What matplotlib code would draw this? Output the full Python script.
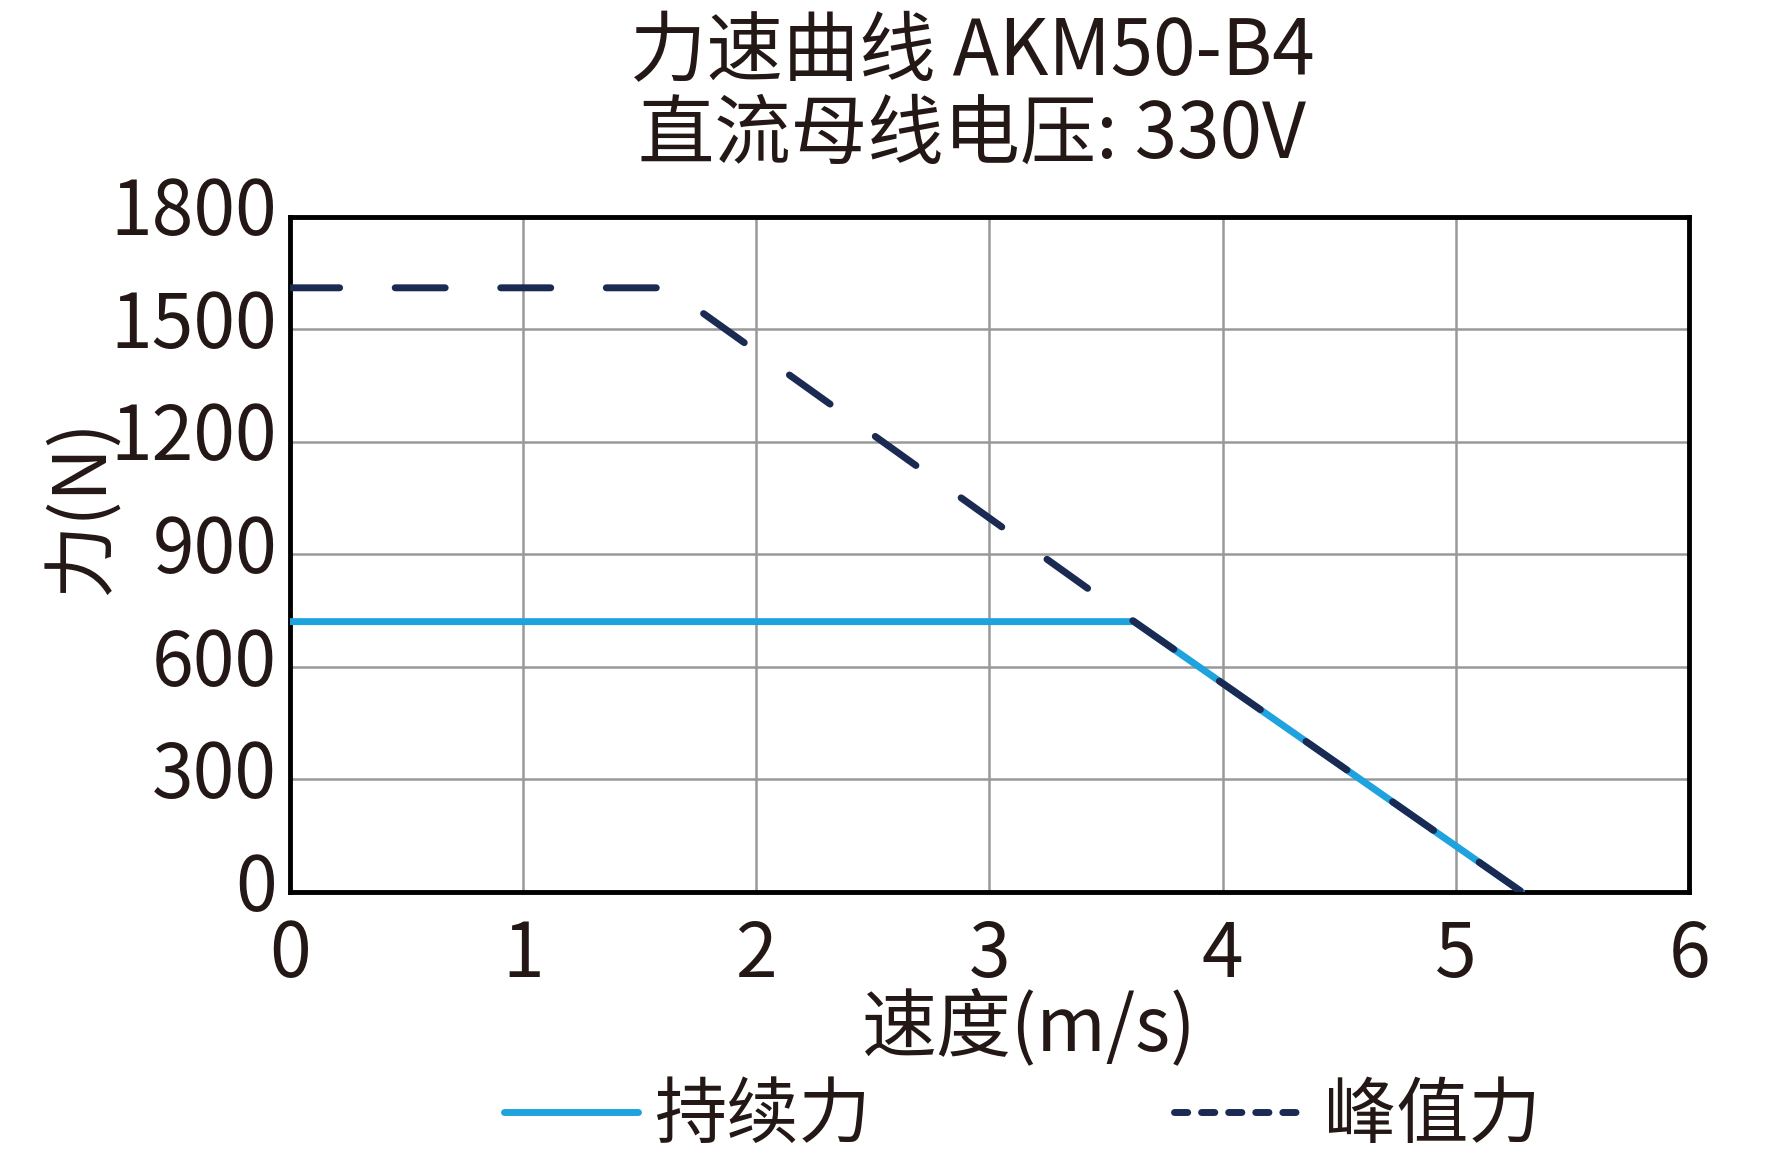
import matplotlib
matplotlib.use("Agg")
import matplotlib.pyplot as plt
from matplotlib.lines import Line2D
from matplotlib.transforms import ScaledTranslation

plt.rcParams['font.family'] = ['Noto Sans CJK SC', 'DejaVu Sans']

# data
speed_cont = [0, 3.62, 5.28]
force_cont = [720, 720, 0]
speed_peak = [0, 1.62, 3.62, 5.28]
force_peak = [1610, 1610, 720, 0]

x_ticks = [0, 1, 2, 3, 4, 5, 6]
y_ticks = [0, 300, 600, 900, 1200, 1500, 1800]

title = "力速曲线 AKM50-B4\n直流母线电压: 330V"
xlabel = "速度(m/s)"
ylabel = "力(N)"
labels = ["持续力", "峰值力"]

cyan = '#1fa3df'
navy = '#1b2a52'
txt = '#231815'

fig = plt.figure(figsize=(17.66, 11.58), dpi=100)
ax = fig.add_axes([0.164, 0.230, 0.7926, 0.583])

ax.plot(speed_cont, force_cont, color=cyan, lw=5, solid_capstyle='round', zorder=3)
ax.plot(speed_peak, force_peak, color=navy, lw=5, dashes=(7.2, 8.0),
        dash_capstyle='round', zorder=4)

ax.set_xlim(0, 6)
ax.set_ylim(0, 1800)
ax.set_xticks(x_ticks)
ax.set_yticks(y_ticks)
ax.set_xticklabels([str(v) for v in x_ticks])
ax.set_yticklabels([str(v) for v in y_ticks])
ax.tick_params(length=0, labelsize=54, labelcolor=txt, pad=9)
ax.tick_params(axis='x', pad=18)
ax.grid(True, color='#999999', lw=1.8)
ax.set_axisbelow(True)
for s in ax.spines.values():
    s.set_color('black')
    s.set_linewidth(3.5)

# y tick labels sit a little above their grid lines in the original
shift = ScaledTranslation(0, 8 / 72, fig.dpi_scale_trans)
for lab in ax.get_yticklabels():
    lab.set_transform(lab.get_transform() + shift)

fig.text(0.5504, 0.918, title, ha='center', va='center', fontsize=55,
         color=txt, linespacing=1.05)
fig.text(0.583, 0.112, xlabel, ha='center', va='center', fontsize=54, color=txt)
fig.text(0.047, 0.562, ylabel, ha='center', va='center', fontsize=53,
         color=txt, rotation=90)

handles = [Line2D([], [], color=cyan, lw=5, solid_capstyle='round'),
           Line2D([], [], color=navy, lw=5, dashes=(1.9, 2.0), dash_capstyle='round')]
fig.legend(handles, labels, loc='center', bbox_to_anchor=(0.579, 0.036), ncol=2,
           frameon=False, fontsize=52, handlelength=1.86, handletextpad=0.22,
           columnspacing=4.2, labelcolor=txt)

fig.savefig("out.png", dpi=100)
